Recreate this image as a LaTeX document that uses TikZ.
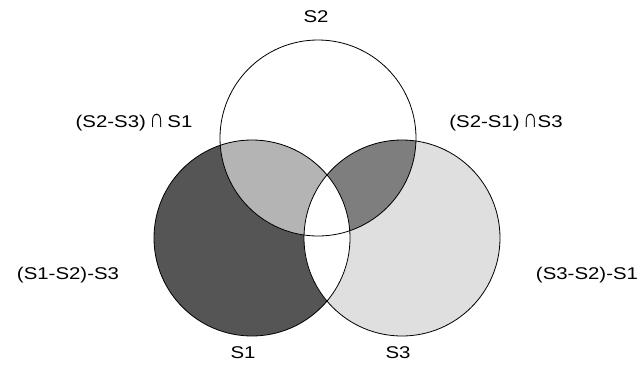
\documentclass[tikz,border=0pt]{standalone}
\usepackage{fontspec}
\setmainfont{Liberation Sans}
\definecolor{cdark}{HTML}{555555}
\definecolor{cmidlight}{HTML}{B4B4B4}
\definecolor{cmid}{HTML}{7E7E7E}
\definecolor{clight}{HTML}{DFDFDF}
\newcommand{\tallcap}{\scalebox{1}[1.55]{∩}}
\begin{document}
\begin{tikzpicture}[x=1pt,y=-1pt,
  lbl/.style={font=\fontsize{17}{19}\selectfont, xscale=1.2, inner sep=0pt},
  outline/.style={draw=black, line width=0.8pt}]
\useasboundingbox (0,0) rectangle (641,376);
\def\PA{(252,238) circle[radius=98]}
\def\PB{(318,138) circle[radius=98]}
\def\PC{(402,238) circle[radius=98]}
\fill[cdark] \PA;
\fill[clight] \PC;
\begin{scope}
  \clip \PB;
  \fill[cmidlight] \PA;
  \fill[cmid] \PC;
\end{scope}
\begin{scope}
  \clip \PA;
  \fill[white] \PC;
\end{scope}
\draw[outline] \PA;
\draw[outline] \PB;
\draw[outline] \PC;
\node[lbl] (l2) at (316,17) {S2};
\node[lbl] (l21) at (134,123) {(S2-S3)\,\tallcap\,S1};
\node[lbl] (l23) at (506,123) {(S2-S1)\,\tallcap S3};
\node[lbl] (l1o) at (68,275) {(S1-S2)-S3};
\node[lbl] (l3o) at (587,275) {(S3-S2)-S1};
\node[lbl] (l1) at (243,353) {S1};
\node[lbl] (l3) at (398,353) {S3};
\end{tikzpicture}
\end{document}
